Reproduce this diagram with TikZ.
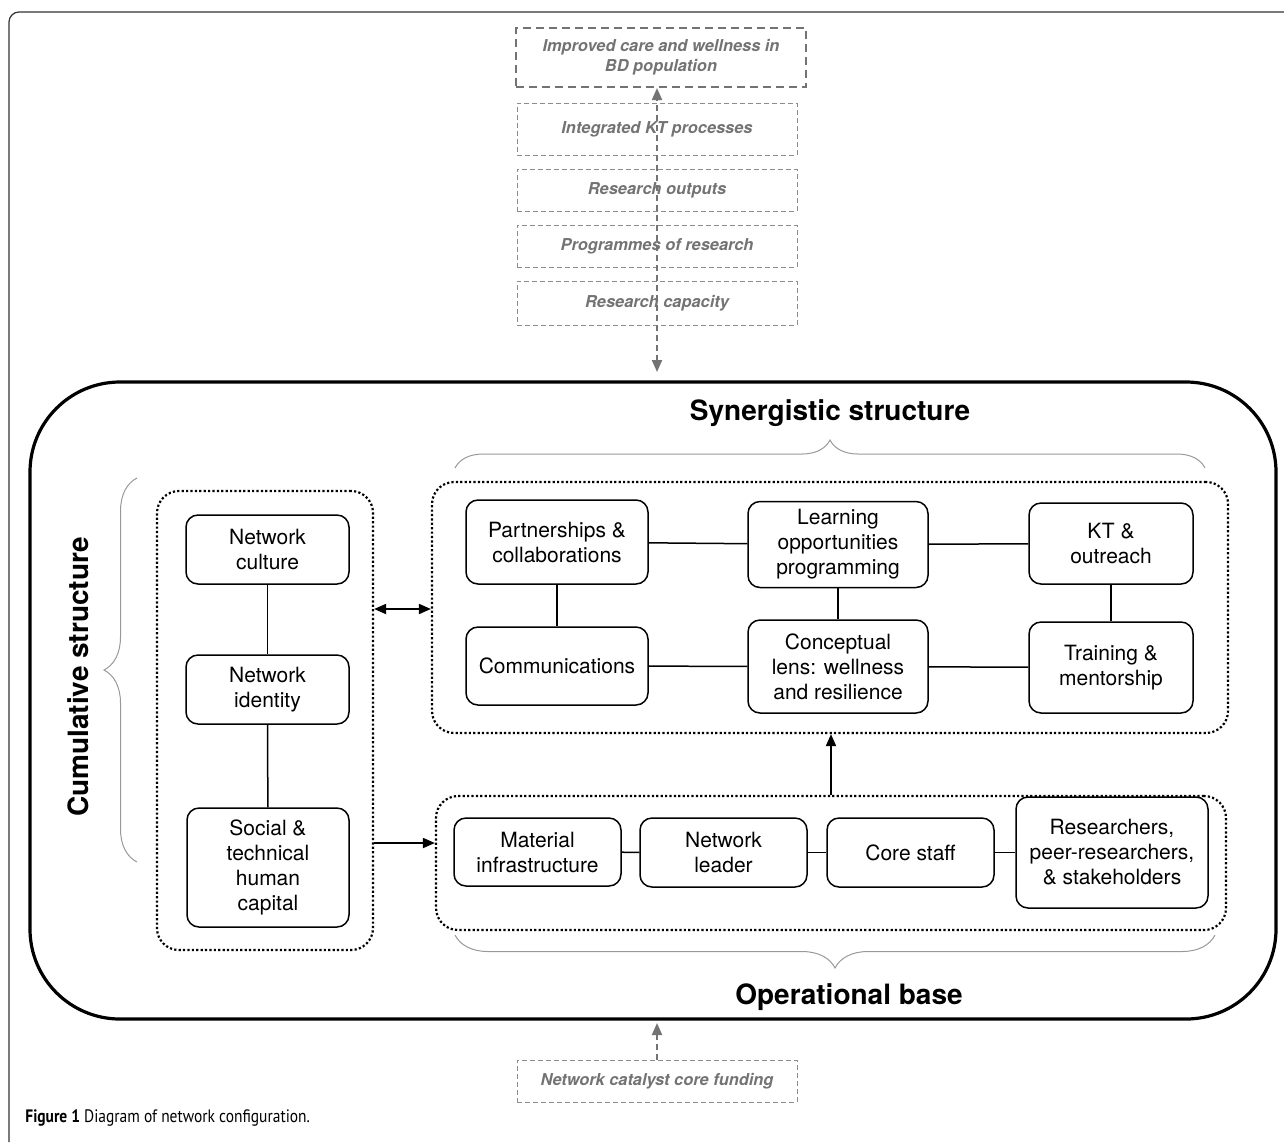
\documentclass[tikz,border=0pt]{standalone}
\usepackage{fontspec}
\setmainfont{TeX Gyre Heros}
\newfontfamily\capfont[FakeStretch=0.86]{PT Sans}
\usetikzlibrary{arrows.meta, positioning, decorations.pathreplacing, calc}
\tikzset{
    unit/.style={
        rectangle, rounded corners=6pt,
        draw=black, fill=white, line width=0.75pt,
        font=\fontsize{10.5}{12.5}\selectfont, align=center, inner sep=2pt
    },
    group/.style={
        rectangle, rounded corners=11pt,
        draw=black, line width=1.1pt, dash pattern=on 1.1pt off 1.1pt
    },
    hull/.style={
        rectangle, rounded corners=45pt,
        draw=black, line width=1.6pt
    },
    outcome/.style={
        rectangle, draw=black!45, line width=0.5pt,
        dash pattern=on 2.5pt off 1.5pt, text=black!55,
        font=\fontsize{8.2}{10}\selectfont\bfseries\itshape, align=center,
        minimum width=140pt, minimum height=21pt
    },
    title/.style={font=\fontsize{14}{16}\selectfont\bfseries},
    link/.style={line width=0.75pt},
    arrow/.style={-{Triangle[length=6pt,width=5pt]}, line width=0.9pt},
    fundarrow/.style={-{Triangle[length=6pt,width=5pt]}, draw=black!55, line width=1pt, dash pattern=on 3pt off 2pt},
    curly/.style={decorate, decoration={brace, amplitude=#1}, draw=black!40, line width=0.5pt}
}

\begin{document}
\begin{tikzpicture}[x=0.5pt, y=-0.5pt]
    \useasboundingbox (0,0) rectangle (1284,1142);
    \draw[line width=0.6pt, black!80, rounded corners=5pt] (9,1142) -- (9,12) -- (1284,12);

    % outcomes chain
    \node[outcome, minimum width=145pt, minimum height=29.5pt, line width=1pt, draw=black!55,
          dash pattern=on 4pt off 2.5pt] (imp) at (661,57.5) {Improved care and wellness in\\BD population};
    \node[outcome, minimum height=26pt] (ikt) at (657,129) {Integrated KT processes};
    \node[outcome] (outp) at (657,190) {Research outputs};
    \node[outcome] (prog) at (657,246) {Programmes of research};
    \node[outcome, minimum height=22pt] (cap) at (657,303) {Research capacity};

    % network
    \node[hull, minimum width=623pt, minimum height=318.5pt] (outer) at (653,700.5) {};
    \node[group, minimum width=108pt, minimum height=229.5pt] (cum) at (265,720.5) {};
    \node[group, minimum width=398pt, minimum height=125.5pt] (syn) at (830,607.5) {};
    \node[group, minimum width=395pt, minimum height=67pt] (ops) at (831,863) {};

    \node[title] (syntitle) at (830,413) {Synergistic structure};
    \node[title] (opstitle) at (849,997) {Operational base};
    \node[title, rotate=90] (cumtitle) at (78,677) {Cumulative structure};

    \node[unit, minimum width=81.5pt, minimum height=34.5pt] (netcult) at (267.5,549.5) {Network\\culture};
    \node[unit, minimum width=81.5pt, minimum height=34.5pt] (netid) at (267.5,689.5) {Network\\identity};
    \node[unit, minimum width=81pt, minimum height=59.5pt] (social) at (268,867.5) {Social \&\\technical\\human\\capital};

    \node[unit, minimum width=91pt, minimum height=42pt] (partner) at (557,542) {Partnerships \&\\collaborations};
    \node[unit, minimum width=90pt, minimum height=43pt] (learn) at (838,544.5) {Learning\\opportunities\\programming};
    \node[unit, minimum width=82pt, minimum height=40.5pt] (kt) at (1111,543.5) {KT \&\\outreach};
    \node[unit, minimum width=91pt, minimum height=39pt] (comms) at (557,666) {Communications};
    \node[unit, minimum width=90pt, minimum height=46.5pt] (concept) at (838,666.5) {Conceptual\\lens: wellness\\and resilience};
    \node[unit, minimum width=82pt, minimum height=45.5pt] (train) at (1111,667.5) {Training \&\\mentorship};

    \node[unit, minimum width=83.5pt, minimum height=34pt] (material) at (537.5,852) {Material\\infrastructure};
    \node[unit, minimum width=83.5pt, minimum height=34.5pt] (leader) at (723.5,852.5) {Network\\leader};
    \node[unit, minimum width=83.5pt, minimum height=34.5pt] (core) at (910.5,852.5) {Core staff};
    \node[unit, minimum width=96pt, minimum height=55.5pt] (resrch) at (1112,852.5) {Researchers,\\peer-researchers,\\\& stakeholders};

    \node[outcome] (fund) at (657,1081) {Network catalyst core funding};

    % braces
    \draw[curly=14pt] (455,468) -- (1205,468);
    \draw[curly=16.5pt] (137,862) -- (137,478);
    \draw[curly=16.5pt] (1215,935) -- (455,935);

    % links
    \draw[link] (netcult) -- (netid);
    \draw[link] (netid) -- (social);
    \draw[link] (partner) -- (learn);
    \draw[link] (learn) -- (kt);
    \draw[link] (partner) -- (comms);
    \draw[link] (learn) -- (concept);
    \draw[link] (kt) -- (train);
    \draw[link] (comms) -- (concept);
    \draw[link] (concept) -- (train);
    \draw[link] (material) -- (leader);
    \draw[link] (leader) -- (core);
    \draw[link] (core) -- (resrch);

    % arrows
    \coordinate (dblrow) at (400,609);
    \coordinate (opsrow) at (400,843);
    \draw[arrow, {Triangle[length=6pt,width=5pt]}-{Triangle[length=6pt,width=5pt]}] (cum.east |- dblrow) -- (syn.west |- dblrow);
    \draw[arrow] (cum.east |- opsrow) -- (ops.west |- opsrow);
    \draw[arrow] (ops.north) -- (ops.north |- syn.south);

    \coordinate (captop) at (657,372);
    \coordinate (fundtip) at (657,1023);
    \draw[fundarrow, {Triangle[length=6pt,width=5pt]}-{Triangle[length=6pt,width=5pt]}] (captop) -- (captop |- imp.south);
    \draw[fundarrow] (fund.north) -- (fundtip);

    \node[anchor=base west, inner sep=0pt, font=\capfont\fontsize{9}{11}\selectfont] (caption) at (25,1122)
        {\textbf{Figure 1} Diagram of network configuration.};
\end{tikzpicture}
\end{document}
